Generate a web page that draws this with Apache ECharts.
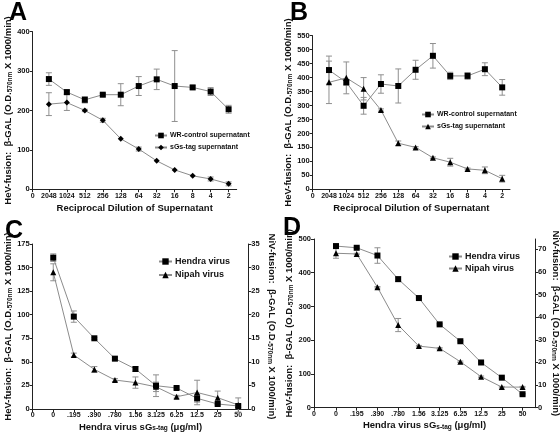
<!DOCTYPE html>
<html><head><meta charset="utf-8">
<script src="https://cdn.jsdelivr.net/npm/echarts@6/dist/echarts.min.js"></script>
<style>html,body{margin:0;padding:0;background:#fff}#c{width:560px;height:437px}</style>
</head><body><div id="c"></div><script>
// ---- data ----
const dilutionLabels = ['2048','1024','512','256','128','64','32','16','8','4','2'];
const aWR    = [279.7,246.6,227,240,240,262,279,262,258.5,248,203];
const aWRErr = [16,5,8,3,28,24,26,90,4,10,10];
const aSG    = [216,220,200,175,128,102,72,49,34,26,13.6];
const aSGErr = [29,20,3,5,0,5,0,0,0,5,5];
const bWR    = [427,383,299,377,370,428,478,406,406,430,365];
const bWRErr = [50,10,30,33,61,34,44,13,12,23,28];
const bSG    = [383,399,360,284,165,150,113,97,73,68,38];
const bSGErr = [76,57,40,4,8,3,3,14,3,12,12];
const concLabels = ['0','.195','.390','.780','1.56','3.125','6.25','12.5','25','50'];
const cHeV    = [160.5,98,75,53.4,42.4,24.7,22.3,11.3,5.3,3.2];
const cHeVErr = [4,6,1,1.5,2.5,11.5,1,4,1,1];
const cNiV    = [29.0,11.45,8.4,6.15,5.6,4.7,2.6,3.5,2.4,0.85];
const cNiVErr = [1.8,0.4,0.6,0.3,1.2,1,0.3,2.6,1.4,1.5];
const dHeV    = [479,474,451,381,325,247,197,134,89,40];
const dHeVErr = [6,2,23,7,2,2,2,2,2,2];
const dNiV    = [68.2,67.9,53.2,36.5,27.2,26.2,20.3,13.7,9.1,9.1];
const dNiVErr = [2.2,0.3,0.3,2.9,0.3,0.3,0.3,0.3,0.3,0.3];
const dRightTicks = [0,10,20,30,40,50,60,70];
const leftAxisName  = '{a|HeV-fusion:  β-GAL (O.D.}{s|570nm}{a| X 1000/min)}';
const rightAxisName = '{a|NiV-fusion:  β-GAL (O.D.}{s|570nm}{a| X 1000/min)}';
const dilutionName = 'Reciprocal Dilution of Supernatant';
const concName = '{a|Hendra virus sG}{s|s-tag}{a| (μg/ml)}';

// ---- style helpers ----
const FONT = 'Liberation Sans, Arial, sans-serif';
const AX = '#222';
const TICKFS = 7.5;
const rich = {
  a:{fontSize:9.5, fontWeight:'bold', color:'#111', fontFamily:FONT, verticalAlign:'bottom'},
  s:{fontSize:6.5, fontWeight:'bold', color:'#111', fontFamily:FONT, verticalAlign:'bottom'}
};
function xAx(gi, labels, origin, end, name, gap){
  const vals = [origin].concat(labels.map((_, i) => i));
  return {type:'value', gridIndex:gi, min:origin, max:labels.length - 1 + end,
    splitLine:{show:false},
    axisLine:{onZero:false, lineStyle:{color:AX, width:1}},
    axisTick:{show:true, customValues:vals, length:3, lineStyle:{color:AX}},
    axisLabel:{customValues:vals, formatter:v => v < 0 ? '0' : labels[Math.round(v)],
      fontSize:7, fontWeight:'bold', color:'#111', margin:3, fontFamily:FONT},
    name:name, nameLocation:'middle', nameGap:gap,
    nameTextStyle:{fontSize:9.5, fontWeight:'bold', color:'#111', fontFamily:FONT, rich:rich}};
}
function yAx(gi, max, interval, pos, name, gap, rot, custom){
  const ax = {type:'value', gridIndex:gi, min:0, max:max, interval:interval, position:pos,
    splitLine:{show:false},
    axisLine:{show:true, onZero:false, lineStyle:{color:AX, width:1}},
    axisTick:{show:true, length:3, lineStyle:{color:AX}},
    axisLabel:{fontSize:TICKFS, fontWeight:'bold', color:'#111', margin:3, fontFamily:FONT},
    name:name, nameLocation:'middle', nameGap:gap, nameRotate:rot,
    nameTextStyle:{rich:rich}};
  if (custom) { ax.axisTick.customValues = custom; ax.axisLabel.customValues = custom; }
  return ax;
}
function lineS(name, vals, xi, yi, sym, size){
  return {type:'line', name:name, xAxisIndex:xi, yAxisIndex:yi,
    data: vals.map((v, i) => [i, v]),
    symbol:sym, symbolSize:size, showSymbol:true,
    lineStyle:{color:'#8c8c8c', width:1},
    itemStyle:{color:'#000'}, z:3, animation:false};
}
function errS(vals, errs, xi, yi){
  return {type:'custom', xAxisIndex:xi, yAxisIndex:yi, silent:true, z:2, animation:false,
    data: vals.map((v, i) => [i, v - errs[i], v + errs[i]]),
    encode:{x:0, y:[1,2]},
    renderItem(params, api){
      const x = api.value(0), lo = api.value(1), hi = api.value(2);
      if (hi - lo <= 0.01) return;
      const p1 = api.coord([x, hi]), p2 = api.coord([x, lo]);
      const w = 3, st = {stroke:'#8f8f8f', lineWidth:1};
      return {type:'group', children:[
        {type:'line', shape:{x1:p1[0], y1:p1[1], x2:p2[0], y2:p2[1]}, style:st},
        {type:'line', shape:{x1:p1[0]-w, y1:p1[1], x2:p1[0]+w, y2:p1[1]}, style:st},
        {type:'line', shape:{x1:p2[0]-w, y1:p2[1], x2:p2[0]+w, y2:p2[1]}, style:st}
      ]};
    }};
}
function legend(names, left, top, fs, iw, ih, gap){
  return {orient:'vertical', left:left, top:top, data:names, itemWidth:iw, itemHeight:ih,
    itemGap:gap, padding:0, selectedMode:false,
    textStyle:{fontSize:fs, fontWeight:'bold', color:'#111', fontFamily:FONT, padding:[0,0,0,-2]}};
}
function letter(t, x, y){
  return {type:'text', x:x, y:y, style:{text:t, font:'bold 25px ' + FONT, fill:'#000',
    textAlign:'left', textVerticalAlign:'middle'}};
}

const chart = echarts.init(document.getElementById('c'), null, {renderer:'canvas'});
chart.setOption({
  animation:false,
  backgroundColor:'#fff',
  textStyle:{fontFamily:FONT},
  grid:[
    {left:32.7, top:31.7, width:204, height:157.5, outerBoundsMode:'none'},
    {left:312.7, top:35.7, width:197.3, height:153.6, outerBoundsMode:'none'},
    {left:32.7, top:244, width:215.6, height:165, outerBoundsMode:'none'},
    {left:314, top:239, width:221, height:168.7, outerBoundsMode:'none'}
  ],
  xAxis:[
    xAx(0, dilutionLabels, -0.9, 0.45, dilutionName, 14),
    xAx(1, dilutionLabels, -0.94, 0.45, dilutionName, 14),
    xAx(2, concLabels, -1.0, 0.49, concName, 13),
    xAx(3, concLabels, -1.06, 0.6, concName, 13)
  ],
  yAxis:[
    yAx(0, 400, 100, 'left', leftAxisName, 17, 90),
    yAx(1, 550, 50, 'left', leftAxisName, 17, 90),
    yAx(2, 175, 25, 'left', leftAxisName, 17, 90),
    yAx(2, 35, 5, 'right', rightAxisName, 18, -90),
    yAx(3, 500, 100, 'left', leftAxisName, 17, 90),
    yAx(3, 74.5, null, 'right', rightAxisName, 8, -90, dRightTicks)
  ],
  legend:[
    legend(['WR-control supernatant','sGs-tag supernatant'], 154, 132, 7, 12, 7, 5),
    legend(['WR-control supernatant','sGs-tag supernatant '], 421, 111, 7, 12, 7, 5),
    legend(['Hendra virus','Nipah virus'], 158, 257, 9, 13, 8, 4.5),
    legend(['Hendra virus','Nipah virus'], 448, 252, 9, 13, 8, 3)
  ],
  graphic:[letter('A', 9, 13), letter('B', 290, 13), letter('C', 5, 231), letter('D', 283, 228)],
  series:[
    errS(aWR, aWRErr, 0, 0), errS(aSG, aSGErr, 0, 0),
    lineS('WR-control supernatant', aWR, 0, 0, 'rect', 6),
    lineS('sGs-tag supernatant', aSG, 0, 0, 'diamond', 6),
    errS(bWR, bWRErr, 1, 1), errS(bSG, bSGErr, 1, 1),
    lineS('WR-control supernatant', bWR, 1, 1, 'rect', 6),
    lineS('sGs-tag supernatant ', bSG, 1, 1, 'triangle', 6),
    errS(cHeV, cHeVErr, 2, 2), errS(cNiV, cNiVErr, 2, 3),
    lineS('Hendra virus', cHeV, 2, 2, 'rect', 6),
    lineS('Nipah virus', cNiV, 2, 3, 'triangle', 6),
    errS(dHeV, dHeVErr, 3, 4), errS(dNiV, dNiVErr, 3, 5),
    lineS('Hendra virus', dHeV, 3, 4, 'rect', 6),
    lineS('Nipah virus', dNiV, 3, 5, 'triangle', 6)
  ]
});
</script></body></html>
